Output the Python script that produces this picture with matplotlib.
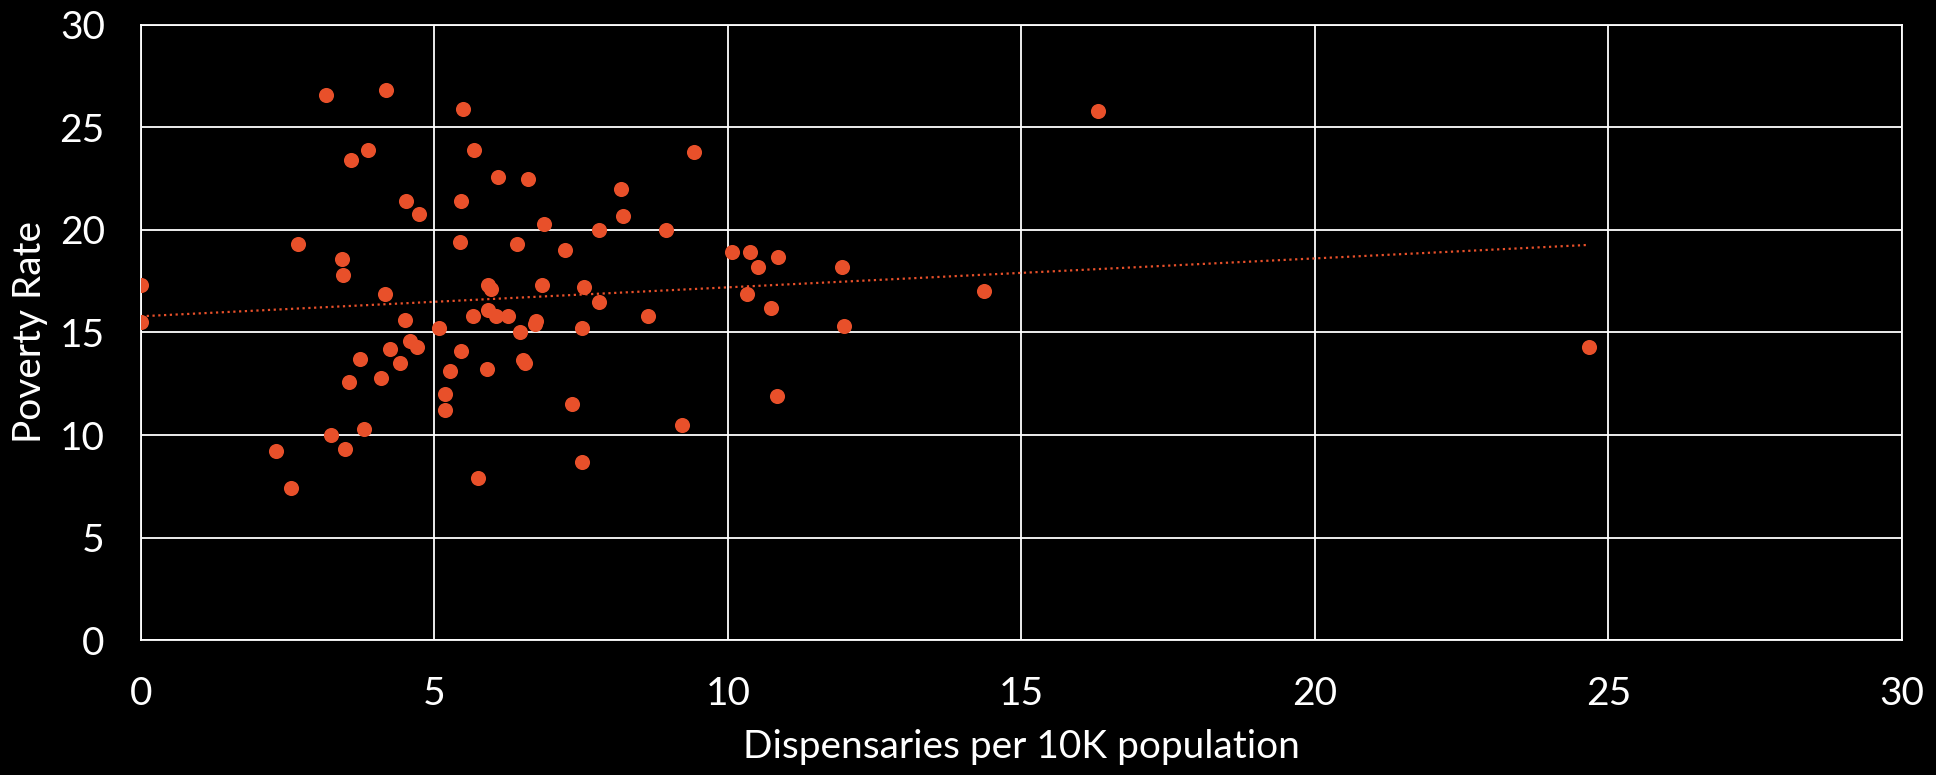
import numpy as np
import matplotlib
matplotlib.use('Agg')
import matplotlib.pyplot as plt

plt.rcParams['font.family'] = ['Lato', 'DejaVu Sans']

# dispensaries per 10K population vs poverty rate
dispensaries = [0, 0, 2.30, 2.56, 2.68, 3.16, 3.24, 3.43, 3.45, 3.48,
                3.55, 3.58, 3.74, 3.80, 3.87, 4.09, 4.15, 4.17, 4.25, 4.42,
                4.49, 4.52, 4.58, 4.70, 4.73, 5.08, 5.18, 5.18, 5.27, 5.43,
                5.45, 5.46, 5.49, 5.65, 5.67, 5.75, 5.89, 5.91, 5.92, 5.97,
                6.05, 6.09, 6.26, 6.41, 6.45, 6.51, 6.54, 6.60, 6.71, 6.73,
                6.83, 6.87, 7.23, 7.35, 7.51, 7.51, 7.54, 7.80, 7.81, 8.18,
                8.22, 8.63, 8.95, 9.22, 9.42, 10.07, 10.33, 10.37, 10.51, 10.73,
                10.84, 10.86, 11.94, 11.98, 14.37, 16.30, 24.67]
poverty = [17.3, 15.5, 9.2, 7.4, 19.3, 26.6, 10.0, 18.6, 17.8, 9.3,
           12.6, 23.4, 13.7, 10.3, 23.9, 12.8, 16.9, 26.8, 14.2, 13.5,
           15.6, 21.4, 14.6, 14.3, 20.8, 15.2, 12.0, 11.2, 13.1, 19.4,
           21.4, 14.1, 25.9, 15.8, 23.9, 7.9, 13.2, 16.1, 17.3, 17.1,
           15.8, 22.6, 15.8, 19.3, 15.0, 13.66, 13.5, 22.5, 15.4, 15.55,
           17.3, 20.3, 19.0, 11.5, 15.2, 8.7, 17.2, 20.0, 16.5, 22.0,
           20.7, 15.8, 20.0, 10.5, 23.8, 18.9, 16.9, 18.9, 18.2, 16.2,
           11.9, 18.7, 18.2, 15.3, 17.0, 25.8, 14.3]

orange = '#E8502A'

fig = plt.figure(figsize=(19.36, 7.75), dpi=100, facecolor='black')
ax = fig.add_axes([0.0728, 0.174, 0.9096, 0.794], facecolor='black')

ax.scatter(dispensaries, poverty, s=118, color=orange, zorder=3, linewidths=0)

# linear trendline over the data range
x = np.array(dispensaries)
y = np.array(poverty)
slope, intercept = np.polyfit(x, y, 1)
xs = np.array([x.min(), x.max()])
ax.plot(xs, slope * xs + intercept, color=orange, lw=1.6,
        linestyle=(0, (1, 1.6)), zorder=2)

ax.set_xlim(0, 30)
ax.set_ylim(0, 30)
ax.set_xticks(range(0, 31, 5))
ax.set_yticks(range(0, 31, 5))
ax.grid(True, color='white', linewidth=1.3)
ax.set_axisbelow(True)
for s in ax.spines.values():
    s.set_color('white')
    s.set_linewidth(1.3)
ax.tick_params(colors='white', labelsize=28, length=0, pad=26)

ax.set_xlabel('Dispensaries per 10K population', color='white', fontsize=28, labelpad=12)
ax.set_ylabel('Poverty Rate', color='white', fontsize=28, labelpad=8)

fig.savefig('out.png', dpi=100, facecolor='black')
